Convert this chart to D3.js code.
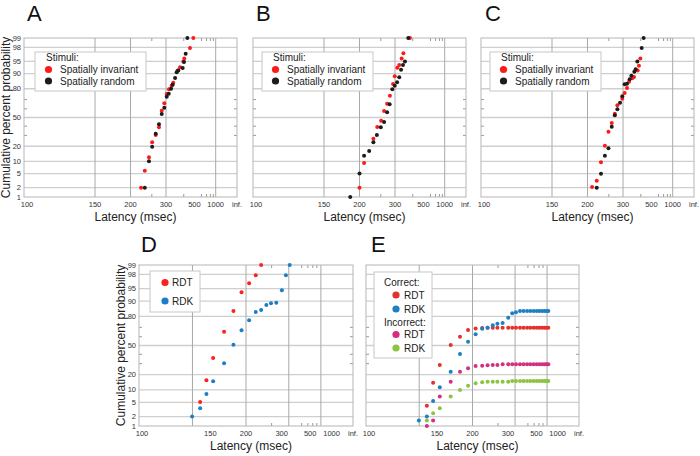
<!DOCTYPE html>
<html><head><meta charset="utf-8">
<script src="https://cdn.jsdelivr.net/npm/d3@7"></script>
<style>body{margin:0;background:#fff;} svg{display:block;font-family:"Liberation Sans",Arial,sans-serif;}</style>
</head><body><svg id="chart" width="700" height="456"></svg>
<script>
// ---------- axis definitions ----------
const percentTicks = [1, 2, 5, 10, 20, 50, 80, 90, 95, 98, 99];
const percentMinor = [30, 40, 60, 70];
const latencyTickValues = [100, 150, 200, 300, 500, 1000, Infinity];
const latencyTickLabels = ["100", "150", "200", "300", "500", "1000", "inf."];
const latencyGridABC = [150, 200, 300, 1000];
const latencyMinorABC = [250, 400, 600, 700, 800, 900];
const latencyGridDE = [133.3, 200, 333.3, 666.7];
const latencyMinorDE = [263, 417, 474, 532, 592];

// ---------- panel A ----------
const aInvariantLatency = [488, 453, 404, 397, 374, 359, 334, 326, 313, 303, 293, 283, 273, 262, 251, 242, 231, 222];
const aInvariantPercent = [99, 97.9, 95.8, 94.9, 92.9, 91.5, 84.6, 82.4, 79.5, 75.4, 66.1, 57.9, 38.7, 30.4, 23.4, 12.2, 6.0, 2.0];
const aRandomLatency = [429, 415, 402, 392, 363, 353, 344, 331, 323, 312, 303, 293, 283, 273, 262, 251, 242, 231];
const aRandomPercent = [99, 96.9, 94.8, 92.6, 91.6, 90.7, 87.6, 83.1, 80.0, 75.7, 72.9, 61.3, 54.1, 42.1, 31.8, 19.7, 10.0, 2.0];

// ---------- panel B ----------
const bInvariantLatency = [380, 340, 331, 319, 310, 299, 292, 280, 270, 260, 251, 240, 230, 209, 200];
const bInvariantPercent = [99, 97.0, 95.8, 93.8, 92.7, 88.6, 83.6, 73.8, 65.7, 57.5, 46.3, 39.1, 26.8, 9.2, 2.0];
const bRandomLatency = [369, 349, 338, 328, 319, 309, 299, 289, 279, 270, 260, 250, 239, 230, 220, 209, 200, 184];
const bRandomPercent = [99, 94.9, 93.8, 91.9, 88.0, 84.9, 82.4, 79.5, 65.0, 56.0, 44.8, 38.7, 30.4, 23.4, 16.4, 13.2, 5.1, 1.0];

// ---------- panel C ----------
const cInvariantLatency = [397, 387, 378, 355, 345, 328, 318, 307, 297, 278, 269, 259, 249, 239, 229, 219, 209];
const cInvariantPercent = [95.8, 93.5, 91.5, 88.2, 87.4, 85.2, 80.6, 76.3, 70.9, 63.9, 54.4, 43.6, 33.9, 20.5, 9.5, 3.2, 2.1];
const cRandomLatency = [423, 407, 376, 365, 357, 340, 331, 318, 307, 297, 288, 278, 269, 259, 249, 239, 229, 219];
const cRandomPercent = [99, 97.9, 94.9, 92.1, 91.0, 88.9, 86.8, 83.9, 83.4, 73.2, 66.7, 59.5, 52.6, 39.4, 18.4, 13.2, 5.0, 2.0];

// ---------- panels D and E (shared latency bins) ----------
const binLatency = [133, 140, 146, 153, 166, 179, 192, 206, 220, 233, 247, 261, 279, 301, 319, 338, 361,
                    384, 410, 437, 468, 501, 537, 576, 616, 655, 694];
const dRdtPercent = [null, 5.1, 15.7, 35.9, 65.5, 84.1, 93.8, 96.4, 97.9, 99];
const dRdkPercent = [2.0, 3.5, 8.1, 15.1, 30.4, 50.9, 67.0, 76.7, 83.3, 84.8, 87.9, 88.9, 89.2, 94.5, 97.9, 99];
const eCorrectRdt = [null, 4.1, 14.1, 28.7, 50.6, 60.0, 67.3, 68.8, 69.4, 69.6, 69.6, 69.6, 69.6, 69.6, 69.6, 69.6, 69.6,
                     69.6, 69.6, 69.6, 69.6, 69.6, 69.6, 69.6, 69.6, 69.6, 69.6];
const eCorrectRdk = [1.5, 2.0, 5.4, 11.4, 22.5, 40.3, 54.4, 62.7, 68.6, 69.6, 72.0, 73.6, 74.2, 78.9, 82.4, 83.1, 84.1,
                     84.1, 84.1, 84.1, 84.1, 84.1, 84.1, 84.1, 84.1, 84.1, 84.1];
const eIncorrectRdt = [null, 1.0, 1.5, 7.0, 14.8, 22.5, 25.5, 27.7, 28.0, 28.3, 28.7, 28.7, 29.4, 29.4, 29.4, 29.4, 29.4,
                       29.4, 29.4, 29.4, 29.4, 29.4, 29.4, 29.4, 29.4, 29.4, 29.4];
const eIncorrectRdk = [null, 1.5, 2.5, 3.5, 7.0, 9.9, 12.3, 13.7, 14.4, 14.8, 14.8, 14.8, 14.8, 14.8, 15.2, 15.2, 15.2,
                       15.2, 15.2, 15.2, 15.2, 15.2, 15.2, 15.2, 15.2, 15.2, 15.2];

const COLORS = {red: "#ff1a1a", black: "#1c1c1c", dRed: "#ff1f1f", dBlue: "#1a7fc8",
                eRed: "#e4312b", eBlue: "#1b80c6", eMagenta: "#d1317f", eGreen: "#8cc43f"};

// inverse normal CDF (Acklam)
function probit(p) {
  const a = [-3.969683028665376e+01, 2.209460984245205e+02, -2.759285104469687e+02, 1.383577518672690e+02, -3.066479806614716e+01, 2.506628277459239e+00];
  const b = [-5.447609879822406e+01, 1.615858368580409e+02, -1.556989798598866e+02, 6.680131188771972e+01, -1.328068155288572e+01];
  const c = [-7.784894002430293e-03, -3.223964580411365e-01, -2.400758277161838e+00, -2.549671348415490e+00, 4.374664141464968e+00, 2.938163982698783e+00];
  const d = [7.784695709041462e-03, 3.224671290700398e-01, 2.445134137142996e+00, 3.754408661907416e+00];
  const pl = 0.02425;
  let q, r;
  if (p < pl) {
    q = Math.sqrt(-2 * Math.log(p));
    return (((((c[0]*q+c[1])*q+c[2])*q+c[3])*q+c[4])*q+c[5]) / ((((d[0]*q+d[1])*q+d[2])*q+d[3])*q+1);
  } else if (p <= 1 - pl) {
    q = p - 0.5; r = q*q;
    return (((((a[0]*r+a[1])*r+a[2])*r+a[3])*r+a[4])*r+a[5])*q / (((((b[0]*r+b[1])*r+b[2])*r+b[3])*r+b[4])*r+1);
  } else {
    q = Math.sqrt(-2 * Math.log(1 - p));
    return -(((((c[0]*q+c[1])*q+c[2])*q+c[3])*q+c[4])*q+c[5]) / ((((d[0]*q+d[1])*q+d[2])*q+d[3])*q+1);
  }
}

const svg = d3.select("#chart");
const zip = (lat, pct) => lat.map((l, i) => ({lat: l, pct: pct[i]})).filter(d => d.pct != null);

function panel(cfg) {
  const g = svg.append("g");
  const xs = d3.scaleLinear().domain([-1 / 100, 0]).range([cfg.x0, cfg.x1]);
  const X = L => xs(isFinite(L) ? -1 / L : 0);
  const ys = d3.scaleLinear().domain([probit(0.01), probit(0.99)]).range([cfg.y1, cfg.y0]);
  const Y = p => ys(probit(p / 100));

  // horizontal grid
  g.selectAll(".hg").data(percentTicks.slice(1, -1)).join("line")
    .attr("x1", cfg.x0).attr("x2", cfg.x1).attr("y1", d => Y(d)).attr("y2", d => Y(d))
    .attr("stroke", "#cfcfcf").attr("stroke-width", 1.3);
  // vertical grid
  g.selectAll(".vg").data(cfg.grid).join("line")
    .attr("x1", d => X(d)).attr("x2", d => X(d)).attr("y1", cfg.y0).attr("y2", cfg.y1)
    .attr("stroke", "#a9a9a9").attr("stroke-width", 1);
  // minor x ticks (top & bottom)
  cfg.minor.forEach(v => {
    g.append("line").attr("x1", X(v)).attr("x2", X(v)).attr("y1", cfg.y0).attr("y2", cfg.y0 + 3).attr("stroke", "#999");
    g.append("line").attr("x1", X(v)).attr("x2", X(v)).attr("y1", cfg.y1).attr("y2", cfg.y1 - 3).attr("stroke", "#999");
  });
  // minor y ticks (left & right)
  percentMinor.forEach(v => {
    g.append("line").attr("x1", cfg.x0).attr("x2", cfg.x0 + 3).attr("y1", Y(v)).attr("y2", Y(v)).attr("stroke", "#999");
    g.append("line").attr("x1", cfg.x1).attr("x2", cfg.x1 - 3).attr("y1", Y(v)).attr("y2", Y(v)).attr("stroke", "#999");
  });
  // frame
  g.append("rect").attr("x", cfg.x0).attr("y", cfg.y0).attr("width", cfg.x1 - cfg.x0).attr("height", cfg.y1 - cfg.y0)
    .attr("fill", "none").attr("stroke", "#b5b5b5").attr("stroke-width", 1);

  // x tick labels
  g.selectAll(".xt").data(latencyTickValues).join("text")
    .attr("x", (d, i) => X(d) + (i === 0 ? 3 : 0)).attr("y", cfg.y1 + 10)
    .attr("text-anchor", "middle").attr("font-size", 7.5).attr("fill", "#333")
    .text((d, i) => latencyTickLabels[i]);
  // x title
  g.append("text").attr("x", (cfg.x0 + cfg.x1) / 2 + 5).attr("y", cfg.y1 + 24)
    .attr("text-anchor", "middle").attr("font-size", 12).attr("fill", "#222").text("Latency (msec)");

  if (cfg.yLabels) {
    g.selectAll(".yt").data(percentTicks).join("text")
      .attr("x", cfg.x0 - 3).attr("y", d => Y(d) + 2.5)
      .attr("text-anchor", "end").attr("font-size", 7.5).attr("fill", "#333").text(d => d);
    g.append("text").attr("transform", `translate(${cfg.x0 - 14},${(cfg.y0 + cfg.y1) / 2}) rotate(-90)`)
      .attr("text-anchor", "middle").attr("font-size", 12).attr("fill", "#222").text("Cumulative percent probability");
  }

  // panel letter
  g.append("text").attr("x", cfg.letterX).attr("y", cfg.letterY).attr("font-size", 22).attr("fill", "#111").text(cfg.letter);

  // points
  cfg.series.forEach(s => {
    g.append("g").selectAll("circle").data(zip(s.lat, s.pct)).join("circle")
      .attr("cx", d => X(d.lat)).attr("cy", d => Y(d.pct)).attr("r", 2).attr("fill", s.color);
  });

  // legend
  const L = cfg.legend;
  const lg = g.append("g");
  lg.append("rect").attr("x", L.x).attr("y", L.y).attr("width", L.w).attr("height", L.h)
    .attr("fill", "#fff").attr("stroke", "#c8c8c8");
  L.items.forEach(it => {
    if (it.color) {
      lg.append("circle").attr("cx", it.dx).attr("cy", it.cy).attr("r", 3.6).attr("fill", it.color);
    }
    lg.append("text").attr("x", it.tx).attr("y", it.cy + 3.6).attr("font-size", 10).attr("fill", "#222").text(it.text);
  });
}

function stimuliLegend(x) {
  return {x: x, y: 52, w: 111, h: 39, items: [
    {text: "Stimuli:", tx: x + 11, cy: 57.5},
    {text: "Spatially invariant", tx: x + 25, dx: x + 13.5, cy: 69.5, color: COLORS.red},
    {text: "Spatially random", tx: x + 25, dx: x + 13.5, cy: 81, color: COLORS.black}
  ]};
}

panel({x0: 24, x1: 237, y0: 38, y1: 197, letter: "A", letterX: 27, letterY: 21, yLabels: true,
  grid: latencyGridABC, minor: latencyMinorABC, legend: stimuliLegend(35),
  series: [{lat: aInvariantLatency, pct: aInvariantPercent, color: COLORS.red},
           {lat: aRandomLatency, pct: aRandomPercent, color: COLORS.black}]});
panel({x0: 253, x1: 466, y0: 38, y1: 197, letter: "B", letterX: 256, letterY: 21, yLabels: false,
  grid: latencyGridABC, minor: latencyMinorABC, legend: stimuliLegend(262),
  series: [{lat: bInvariantLatency, pct: bInvariantPercent, color: COLORS.red},
           {lat: bRandomLatency, pct: bRandomPercent, color: COLORS.black}]});
panel({x0: 481, x1: 694, y0: 38, y1: 197, letter: "C", letterX: 485, letterY: 21, yLabels: false,
  grid: latencyGridABC, minor: latencyMinorABC, legend: stimuliLegend(490),
  series: [{lat: cInvariantLatency, pct: cInvariantPercent, color: COLORS.red},
           {lat: cRandomLatency, pct: cRandomPercent, color: COLORS.black}]});
panel({x0: 139, x1: 353, y0: 265, y1: 426, letter: "D", letterX: 141, letterY: 252, yLabels: true,
  grid: latencyGridDE, minor: latencyMinorDE,
  legend: {x: 150, y: 271, w: 50, h: 41, items: [
    {text: "RDT", tx: 172, dx: 165, cy: 282.5, color: COLORS.dRed},
    {text: "RDK", tx: 172, dx: 165, cy: 301, color: COLORS.dBlue}]},
  series: [{lat: binLatency, pct: dRdtPercent, color: COLORS.dRed},
           {lat: binLatency, pct: dRdkPercent, color: COLORS.dBlue}]});
panel({x0: 366, x1: 579, y0: 265, y1: 426, letter: "E", letterX: 371, letterY: 252, yLabels: false,
  grid: latencyGridDE, minor: latencyMinorDE,
  legend: {x: 374, y: 272, w: 58, h: 86, items: [
    {text: "Correct:", tx: 384, cy: 282.5},
    {text: "RDT", tx: 404, dx: 396, cy: 295, color: COLORS.eRed},
    {text: "RDK", tx: 404, dx: 396, cy: 309, color: COLORS.eBlue},
    {text: "Incorrect:", tx: 384, cy: 322.5},
    {text: "RDT", tx: 404, dx: 396, cy: 334.5, color: COLORS.eMagenta},
    {text: "RDK", tx: 404, dx: 396, cy: 348, color: COLORS.eGreen}]},
  series: [{lat: binLatency, pct: eCorrectRdt, color: COLORS.eRed},
           {lat: binLatency, pct: eCorrectRdk, color: COLORS.eBlue},
           {lat: binLatency, pct: eIncorrectRdt, color: COLORS.eMagenta},
           {lat: binLatency, pct: eIncorrectRdk, color: COLORS.eGreen}]});
</script></body></html>
